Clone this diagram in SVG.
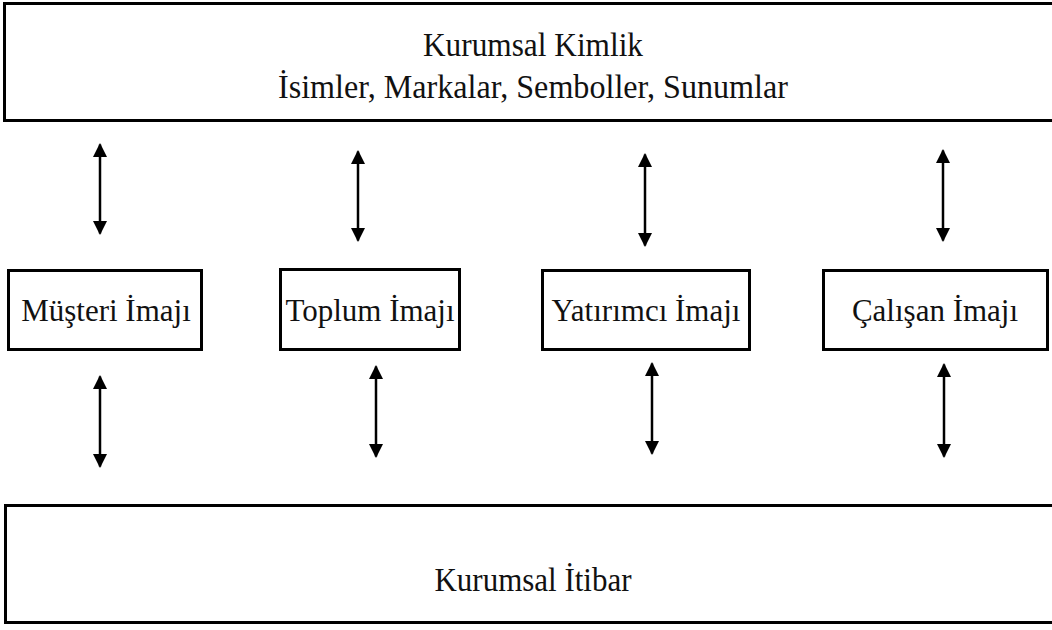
<svg xmlns="http://www.w3.org/2000/svg" width="1052" height="630" viewBox="0 0 1052 630">
  <style>
    .box { fill: #ffffff; stroke: #000000; stroke-width: 3; }
    .lbl { font-family: "Liberation Serif", "Times New Roman", serif; fill: #111111; text-anchor: middle; }
    .big { font-size: 34px; }
    .mid { font-size: 31px; }
    .link { stroke: #000000; stroke-width: 2.5; fill: none; marker-start: url(#head); marker-end: url(#head); }
  </style>
  <defs>
    <marker id="head" viewBox="0 0 10 10" refX="9" refY="5" markerWidth="6" markerHeight="5.6" markerUnits="strokeWidth" orient="auto-start-reverse">
      <path d="M0,0 L10,5 L0,10 z" fill="#000000"/>
    </marker>
  </defs>
  <rect width="1052" height="630" fill="#ffffff"/>

  <g id="kurumsal-kimlik">
    <rect class="box" x="4.5" y="3.5" width="1060" height="117"/>
    <text class="lbl big" x="533" y="56" textLength="220" lengthAdjust="spacingAndGlyphs">Kurumsal Kimlik</text>
    <text class="lbl big" x="533" y="98" textLength="510" lengthAdjust="spacingAndGlyphs">İsimler, Markalar, Semboller, Sunumlar</text>
  </g>

  <g id="musteri-imaji">
    <rect class="box" x="8.5" y="270.5" width="193" height="79"/>
    <text class="lbl mid" x="106" y="321">Müşteri İmajı</text>
  </g>
  <g id="toplum-imaji">
    <rect class="box" x="280.5" y="269.5" width="179" height="80"/>
    <text class="lbl mid" x="370" y="321">Toplum İmajı</text>
  </g>
  <g id="yatirimci-imaji">
    <rect class="box" x="542.5" y="270.5" width="207" height="79"/>
    <text class="lbl mid" x="646" y="321">Yatırımcı İmajı</text>
  </g>
  <g id="calisan-imaji">
    <rect class="box" x="823.5" y="270.5" width="224" height="79"/>
    <text class="lbl mid" x="935" y="321">Çalışan İmajı</text>
  </g>

  <g id="kurumsal-itibar">
    <rect class="box" x="5.5" y="505.5" width="1060" height="117"/>
    <text class="lbl big" x="533" y="591" textLength="197" lengthAdjust="spacingAndGlyphs">Kurumsal İtibar</text>
  </g>

  <g id="connectors">
    <line class="link" x1="100" y1="144.5" x2="100" y2="233.5"/>
    <line class="link" x1="358" y1="151.5" x2="358" y2="240.5"/>
    <line class="link" x1="645" y1="154.5" x2="645" y2="245.5"/>
    <line class="link" x1="943" y1="150.5" x2="943" y2="240.5"/>
    <line class="link" x1="100" y1="376.5" x2="100" y2="466.5"/>
    <line class="link" x1="376" y1="366.5" x2="376" y2="456.5"/>
    <line class="link" x1="652" y1="363.5" x2="652" y2="453.5"/>
    <line class="link" x1="944" y1="364.5" x2="944" y2="456.5"/>
  </g>
</svg>
